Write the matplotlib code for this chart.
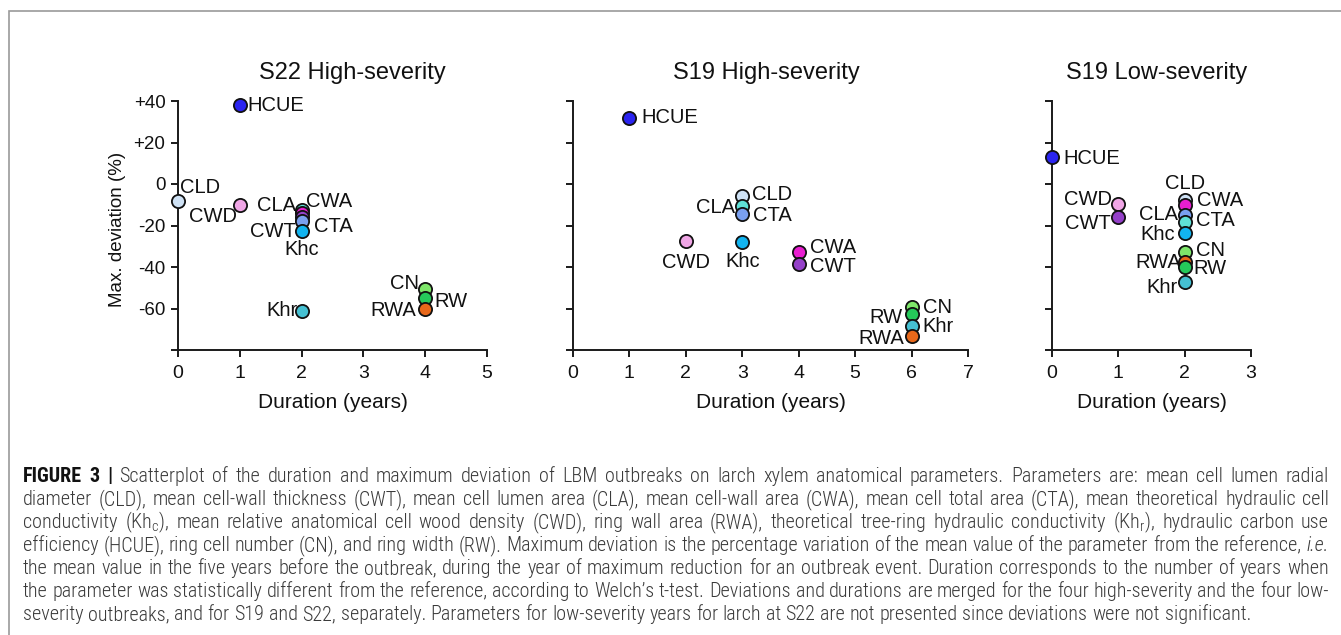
import matplotlib
matplotlib.use('Agg')
import matplotlib.pyplot as plt
from matplotlib import font_manager
from matplotlib.patches import Rectangle

# ---------------- data ----------------
params = ['CLD', 'CWT', 'CLA', 'CWA', 'CTA', 'Khc', 'CWD', 'RWA', 'Khr', 'HCUE', 'CN', 'RW']
param_colors = ['#cfe2f5', '#9440c8', '#5fe0d6', '#e81ed0', '#7aa0f0', '#12b4f0',
                '#f0a6e6', '#e8681a', '#45c0d2', '#2b24f0', '#7ee66a', '#25c95a']

s22_high_dur = [0, 2, 2, 2, 2, 2, 1, 4, 2, 1, 4, 4]
s22_high_dev = [-8, -16, -12.5, -13.8, -18, -22.5, -10, -60, -61, 38, -50.5, -55]

s19_high_dur = [3, 4, 3, 4, 3, 3, 2, 6, 6, 1, 6, 6]
s19_high_dev = [-5.6, -38.4, -10.5, -33, -14.6, -27.9, -27.5, -73.3, -68.4, 32, -59.5, -62.8]

s19_low_dur = [2, 1, 2, 2, 2, 2, 1, 2, 2, 0, 2, 2]
s19_low_dev = [-7.6, -15.7, -18.2, -10, -14.9, -23.8, -9.7, -37.6, -47, 13, -32.7, -40]

panel_titles = ['S22 High-severity', 'S19 High-severity', 'S19 Low-severity']
x_max = [5, 7, 3]
y_ticks = [-80, -60, -40, -20, 0, 20, 40]
y_ticklabels = ['', '-60', '-40', '-20', '0', '+20', '+40']
x_label = 'Duration (years)'
y_label = 'Max. deviation (%)'

caption_lines = [
    "FIGURE 3 | Scatterplot of the duration and maximum deviation of LBM outbreaks on larch xylem anatomical parameters. Parameters are: mean cell lumen radial",
    "diameter (CLD), mean cell-wall thickness (CWT), mean cell lumen area (CLA), mean cell-wall area (CWA), mean cell total area (CTA), mean theoretical hydraulic cell",
    r"conductivity (Kh$_\mathregular{c}$), mean relative anatomical cell wood density (CWD), ring wall area (RWA), theoretical tree-ring hydraulic conductivity (Kh$_\mathregular{r}$), hydraulic carbon use",
    "efficiency (HCUE), ring cell number (CN), and ring width (RW). Maximum deviation is the percentage variation of the mean value of the parameter from the reference, i.e.",
    "the mean value in the five years before the outbreak, during the year of maximum reduction for an outbreak event. Duration corresponds to the number of years when",
    "the parameter was statistically different from the reference, according to Welch\u2019s t-test. Deviations and durations are merged for the four high-severity and the four low-",
    "severity outbreaks, and for S19 and S22, separately. Parameters for low-severity years for larch at S22 are not presented since deviations were not significant.",
]

# ---------------- layout (pixels) ----------------
W, H = 1341, 635
DPI = 100
panels_px = [(178, 487), (573, 968), (1052, 1251)]
y_top_px, y_bot_px = 101, 350
title_px = [(352, 73), (766, 73), (1157, 73)]

label_offsets = [
    {'HCUE': (8, 0, 'left'), 'CLD': (2, 13, 'left'), 'CWD': (-3, -12, 'right'),
     'CLA': (-6, 4, 'right'), 'CWA': (4, 11, 'left'), 'CWT': (-6, -14, 'right'),
     'CTA': (12, -5, 'left'), 'Khc': (0, -19, 'center'), 'Khr': (-4, 0, 'right'),
     'CN': (-6, 5, 'right'), 'RW': (9, -3, 'left'), 'RWA': (-9, -2, 'right')},
    {'HCUE': (12, 0, 'left'), 'CLD': (10, 1, 'left'), 'CLA': (-7, -2, 'right'),
     'CTA': (11, -1, 'left'), 'CWD': (0, -21, 'center'), 'Khc': (0, -20, 'center'),
     'CWA': (11, 5, 'left'), 'CWT': (11, -3, 'left'), 'CN': (11, 0, 'left'),
     'RW': (-9, -3, 'right'), 'Khr': (11, -1, 'left'), 'RWA': (-7, -2, 'right')},
    {'HCUE': (11, -1, 'left'), 'CWD': (-6, 5, 'right'), 'CWT': (-7, -7, 'right'),
     'CLD': (0, 16, 'center'), 'CWA': (12, 4, 'left'), 'CLA': (-7, 7, 'right'),
     'CTA': (11, -6, 'left'), 'Khc': (-10, -1, 'right'), 'CN': (11, 1, 'left'),
     'RWA': (-4, 0, 'right'), 'RW': (9, -1, 'left'), 'Khr': (-7, -6, 'right')},
]

plt.rcParams['font.family'] = ['Liberation Sans', 'DejaVu Sans']

fig = plt.figure(figsize=(W / DPI, H / DPI), dpi=DPI)
fig.patch.set_facecolor('white')

series = [(s22_high_dur, s22_high_dev), (s19_high_dur, s19_high_dev), (s19_low_dur, s19_low_dev)]

for i, ((durs, devs), (x0, x1)) in enumerate(zip(series, panels_px)):
    ax = fig.add_axes([x0 / W, 1 - y_bot_px / H, (x1 - x0) / W, (y_bot_px - y_top_px) / H])
    ax.set_xlim(0, x_max[i])
    ax.set_ylim(-80, 40)
    for s in ['top', 'right']:
        ax.spines[s].set_visible(False)
    for s in ['left', 'bottom']:
        ax.spines[s].set_linewidth(1.4)
        ax.spines[s].set_color('#1a1a1a')
    ax.set_xticks(list(range(0, x_max[i] + 1)))
    ax.set_xticklabels([str(v) for v in range(0, x_max[i] + 1)], fontsize=14)
    ax.set_yticks(y_ticks)
    if i == 0:
        ax.set_yticklabels(y_ticklabels, fontsize=13.5)
    else:
        ax.set_yticklabels([])
    ax.tick_params(axis='both', direction='out', length=5, width=1.4, color='#1a1a1a',
                   labelcolor='#111111', pad=4)
    ax.tick_params(axis='x', pad=6)
    ax.patch.set_alpha(0)

    order = sorted(range(len(params)), key=lambda k: -devs[k])
    for rank, k in enumerate(order):
        ax.scatter([durs[k]], [devs[k]], s=9.5 ** 2, c=[param_colors[k]], edgecolors='#111111',
                   linewidths=1.3, zorder=3 + rank, clip_on=False)
    for k, name in enumerate(params):
        dx, dy, ha = label_offsets[i][name]
        ax.annotate(name, (durs[k], devs[k]), xytext=(dx, dy), textcoords='offset pixels',
                    ha=ha, va='center', fontsize=14.5, color='#111111', zorder=2,
                    annotation_clip=False)

    tx, ty = title_px[i]
    fig.text(tx / W, 1 - ty / H, panel_titles[i], ha='center', va='center', fontsize=17,
             color='#111111')
    fig.text(((x0 + x1) / 2) / W, 1 - 403 / H, x_label, ha='center', va='center',
             fontsize=15, color='#111111')

fig.text(118 / W, 1 - 229 / H, y_label, rotation=90, ha='center', va='center',
         fontsize=13.5, color='#111111')

# border
fig.patches.append(Rectangle((9 / W, -0.2), 1.2, 1 - 11 / H + 0.2, transform=fig.transFigure,
                             fill=False, edgecolor='#9a9a9a', linewidth=1.2))

# ---------------- caption (justified) ----------------
def has_font(name):
    try:
        font_manager.findfont(font_manager.FontProperties(family=name), fallback_to_default=False)
        return True
    except Exception:
        return False

cap_family = 'Liberation Sans'
for cand in ['Liberation Sans Narrow', 'DejaVu Sans Condensed', 'Roboto Condensed',
             'Open Sans Condensed', 'Roboto']:
    if has_font(cand):
        cap_family = cand
        break

renderer = fig.canvas.get_renderer()

def word_style(li, wi, w):
    if li == 0 and wi < 3:
        return 'bold', 'normal', '#111111'
    if w == 'i.e.':
        return 'light', 'italic', '#3a3a3a'
    return 'light', 'normal', '#3a3a3a'

def measure(s, size, weight='normal', style='normal'):
    t = fig.text(0, 0, s, fontsize=size, family=cap_family, fontweight=weight, fontstyle=style)
    w = t.get_window_extent(renderer).width
    t.remove()
    return w

base = 10.0
space_w_base = measure('x x', base, 'light') - measure('xx', base, 'light')
nat_widths = []
for li, line in enumerate(caption_lines):
    words = line.split(' ')
    tot = 0
    for wi, w in enumerate(words):
        wt, st, _ = word_style(li, wi, w)
        tot += measure(w, base, wt, st)
    tot += space_w_base * (len(words) - 1)
    nat_widths.append(tot)

x_left, x_right = 23, 1329
target = x_right - x_left
cap_size = base * target / max(nat_widths[:-1])
cap_size = min(cap_size, 15)

baselines = [482, 505, 528, 551, 574, 597, 620]
space_w = measure('x x', cap_size, 'light') - measure('xx', cap_size, 'light')
for li, line in enumerate(caption_lines):
    words = line.split(' ')
    widths = []
    for wi, w in enumerate(words):
        wt, st, _ = word_style(li, wi, w)
        widths.append(measure(w, cap_size, wt, st))
    if li < len(caption_lines) - 1:
        gap = (target - sum(widths)) / (len(words) - 1)
    else:
        gap = space_w
    x = x_left
    for wi, w in enumerate(words):
        wt, st, col = word_style(li, wi, w)
        fig.text(x / W, 1 - baselines[li] / H, w, fontsize=cap_size, family=cap_family,
                 fontweight=wt, fontstyle=st, color=col, ha='left', va='baseline')
        x += widths[wi] + gap

fig.savefig('out.png', dpi=DPI, facecolor='white')
